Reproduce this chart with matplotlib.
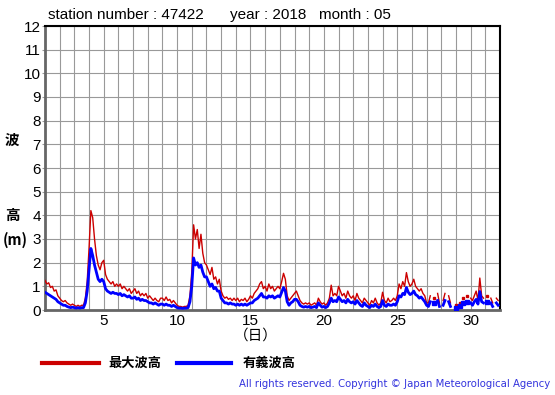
import matplotlib.pyplot as plt
import numpy as np

nan = np.nan

# 3-hourly samples, 8 per day, 1-31 May 2018
max_wave = [
    1.25, 1.1, 1.15, 0.95, 1.0, 0.8, 0.85, 0.6,
    0.5, 0.4, 0.35, 0.4, 0.3, 0.25, 0.2, 0.25,
    0.2, 0.15, 0.2, 0.15, 0.2, 0.2, 0.5, 1.2,
    2.6, 4.2, 3.9, 3.0, 2.3, 1.9, 1.7, 2.0,
    2.1, 1.5, 1.3, 1.2, 1.1, 1.2, 1.0, 1.1,
    1.0, 1.1, 0.9, 1.0, 0.9, 0.8, 0.9, 0.7,
    0.8, 0.9, 0.7, 0.8, 0.6, 0.7, 0.6, 0.7,
    0.5, 0.6, 0.5, 0.4, 0.5, 0.4, 0.35, 0.5,
    0.5, 0.4, 0.55, 0.4, 0.45, 0.3, 0.4, 0.3,
    0.2, 0.15, 0.15, 0.12, 0.15, 0.15, 0.2, 0.6,
    1.6, 3.6, 3.0, 3.4, 2.6, 3.2, 2.4, 2.0,
    1.9, 1.7, 1.5, 1.8, 1.3, 1.4, 1.1, 1.3,
    0.8, 0.6, 0.5, 0.55, 0.45, 0.5, 0.4, 0.5,
    0.4, 0.5, 0.35, 0.45, 0.4, 0.5, 0.35, 0.45,
    0.6, 0.5, 0.7, 0.8, 0.9, 1.1, 1.2, 0.9,
    1.0, 0.8, 1.1, 0.9, 1.0, 0.8, 0.9, 1.0,
    0.9, 1.2, 1.55, 1.3, 0.6, 0.4, 0.5, 0.6,
    0.7, 0.8, 0.6, 0.4, 0.3, 0.25, 0.3, 0.25,
    0.3, 0.2, 0.25, 0.3, 0.2, 0.5, 0.35, 0.25,
    0.3, 0.2, 0.3, 0.5, 1.05, 0.6, 0.7, 0.6,
    1.0, 0.8, 0.6, 0.7, 0.5, 0.8, 0.6, 0.5,
    0.6, 0.4, 0.7, 0.5, 0.4, 0.3, 0.5, 0.4,
    0.3, 0.2, 0.4, 0.3, 0.5, 0.3, 0.2, 0.3,
    0.75, 0.4, 0.3, 0.5, 0.35, 0.4, 0.5, 0.4,
    0.6, 1.1, 0.9, 1.2, 1.0, 1.58, 1.2, 1.0,
    1.1, 1.3, 1.0, 0.9, 0.8, 0.9, 0.7, 0.6,
    0.3, 0.3, 0.6, nan, 0.5, nan, 0.7, 0.3,
    nan, 0.4, 0.7, nan, 0.6, 0.3, nan, nan,
    0.2, nan, 0.3, nan, 0.5, nan, 0.6, nan,
    0.5, 0.4, 0.6, 0.8, 0.4, 1.35, 0.6, 0.5,
    nan, 0.6, nan, 0.5, 0.3, nan, 0.5, 0.4,
]
sig_wave = [
    0.75, 0.7, 0.65, 0.6, 0.55, 0.5, 0.45, 0.35,
    0.3, 0.25, 0.2, 0.2, 0.15, 0.12, 0.1, 0.12,
    0.1, 0.08, 0.1, 0.08, 0.1, 0.1, 0.3, 0.8,
    1.7, 2.6, 2.3, 1.9, 1.6, 1.3, 1.2, 1.3,
    1.2, 0.9, 0.8, 0.75, 0.7, 0.75, 0.7, 0.7,
    0.65, 0.7, 0.6, 0.65, 0.6, 0.55, 0.6, 0.5,
    0.5, 0.55, 0.45, 0.5, 0.4, 0.45, 0.4, 0.4,
    0.35, 0.3, 0.3, 0.25, 0.3, 0.25, 0.2, 0.25,
    0.25, 0.2, 0.25, 0.2, 0.2, 0.15, 0.2, 0.15,
    0.1, 0.08, 0.08, 0.07, 0.08, 0.08, 0.1, 0.35,
    1.0, 2.2, 1.9, 2.0, 1.8, 1.9, 1.6, 1.4,
    1.4, 1.2, 1.0, 1.1, 0.9, 0.95, 0.8, 0.8,
    0.5, 0.4, 0.3, 0.3, 0.25, 0.3, 0.25, 0.25,
    0.2, 0.25, 0.2, 0.25, 0.2, 0.25, 0.2, 0.25,
    0.3, 0.3, 0.4, 0.45, 0.5, 0.6, 0.7, 0.55,
    0.55, 0.5, 0.6, 0.55, 0.6, 0.5, 0.55, 0.6,
    0.55, 0.75, 0.95, 0.8, 0.35, 0.2, 0.3, 0.35,
    0.45, 0.45, 0.35, 0.2, 0.15, 0.12, 0.15, 0.12,
    0.15, 0.1, 0.12, 0.15, 0.1, 0.3, 0.2, 0.12,
    0.15, 0.1, 0.15, 0.3, 0.5, 0.35, 0.4, 0.35,
    0.55, 0.45, 0.35, 0.4, 0.3, 0.45, 0.35, 0.3,
    0.35, 0.25, 0.4, 0.3, 0.2, 0.15, 0.3, 0.2,
    0.15, 0.1, 0.2, 0.15, 0.25, 0.15, 0.1, 0.15,
    0.4, 0.2, 0.15, 0.25, 0.2, 0.2, 0.25, 0.2,
    0.35, 0.6, 0.55, 0.7, 0.65, 0.95, 0.75, 0.65,
    0.7, 0.8, 0.65, 0.6, 0.5, 0.55, 0.45, 0.35,
    0.2, 0.15, 0.35, nan, 0.3, nan, 0.4, 0.15,
    nan, 0.2, 0.4, nan, 0.35, 0.15, nan, nan,
    0.1, nan, 0.15, nan, 0.3, nan, 0.35, nan,
    0.3, 0.2, 0.35, 0.45, 0.25, 0.78, 0.35, 0.3,
    nan, 0.35, nan, 0.3, 0.15, nan, 0.3, 0.2,
]

max_wave = np.array(max_wave)
sig_wave = np.array(sig_wave)
days = 1 + np.arange(len(max_wave)) / 8.0


def isolated(y):
    # points with no valid neighbour are invisible as a line; show them as dots
    prev = np.r_[nan, y[:-1]]
    nxt = np.r_[y[1:], nan]
    return ~np.isnan(y) & np.isnan(prev) & np.isnan(nxt)


jp = ['Noto Sans CJK JP', 'DejaVu Sans']
plt.rcParams['font.family'] = ['Liberation Sans', 'DejaVu Sans']

fig = plt.figure(figsize=(5.55, 3.95), dpi=100)
ax = fig.add_axes([45 / 555, 1 - 310 / 395, 455 / 555, 284 / 395])

ax.plot(days, max_wave, color="#cc0000", lw=1.0, zorder=3)
ax.plot(days, sig_wave, color="#0000ff", lw=2.0, zorder=4)
m = isolated(max_wave)
ax.plot(days[m], max_wave[m], ls='none', marker='s', ms=1.5, color="#cc0000", zorder=3)
m = isolated(sig_wave)
ax.plot(days[m], sig_wave[m], ls='none', marker='s', ms=2.5, color="#0000ff", zorder=4)

ax.set_xlim(1, 32)
ax.set_ylim(0, 12)
ax.set_xticks(np.arange(1, 33), minor=True)
ax.set_xticks([5, 10, 15, 20, 25, 30])
ax.set_yticks(np.arange(0, 13))
ax.grid(True, which='both', color='#999999', lw=0.8)
ax.tick_params(axis='x', which='both', length=0, labelsize=11, pad=3)
ax.tick_params(axis='y', length=2, color='#999999', labelsize=11, pad=1)
for s in ['top', 'right']:
    ax.spines[s].set_color('black')
    ax.spines[s].set_linewidth(1.5)
for s in ['left', 'bottom']:
    ax.spines[s].set_color('#666666')
    ax.spines[s].set_linewidth(2)

fig.text(48 / 555, 1 - 15 / 395, "station number : 47422", fontsize=11, va='center')
fig.text(230 / 555, 1 - 15 / 395, "year : 2018", fontsize=11, va='center')
fig.text(319 / 555, 1 - 15 / 395, "month : 05", fontsize=11, va='center')

fig.text(12 / 555, 1 - 140 / 395, "波", family=jp, fontsize=10.5, fontweight='bold', ha='center', va='center')
fig.text(12 / 555, 1 - 215 / 395, "高", family=jp, fontsize=10.5, fontweight='bold', ha='center', va='center')
fig.text(3 / 555, 1 - 240 / 395, "(m)", family=jp, fontsize=10.5, fontweight='bold', ha='left', va='center')
fig.text(256 / 555, 1 - 336 / 395, "（日）", family=jp, fontsize=10.5, ha='center', va='center')

# legend
fig.add_artist(plt.Line2D([42 / 555, 99 / 555], [1 - 363 / 395] * 2, color="#cc0000", lw=3))
fig.text(108 / 555, 1 - 363 / 395, "最大波高", family=jp, fontsize=9.5, fontweight='bold', va='center')
fig.add_artist(plt.Line2D([177 / 555, 231 / 555], [1 - 363 / 395] * 2, color="#0000ff", lw=3))
fig.text(243 / 555, 1 - 363 / 395, "有義波高", family=jp, fontsize=9.5, fontweight='bold', va='center')

fig.text(550 / 555, 1 - 384 / 395, "All rights reserved. Copyright © Japan Meteorological Agency",
         family='DejaVu Sans', fontsize=7.3, color="#3333dd", ha='right', va='center')

fig.savefig("out.png", dpi=100)
